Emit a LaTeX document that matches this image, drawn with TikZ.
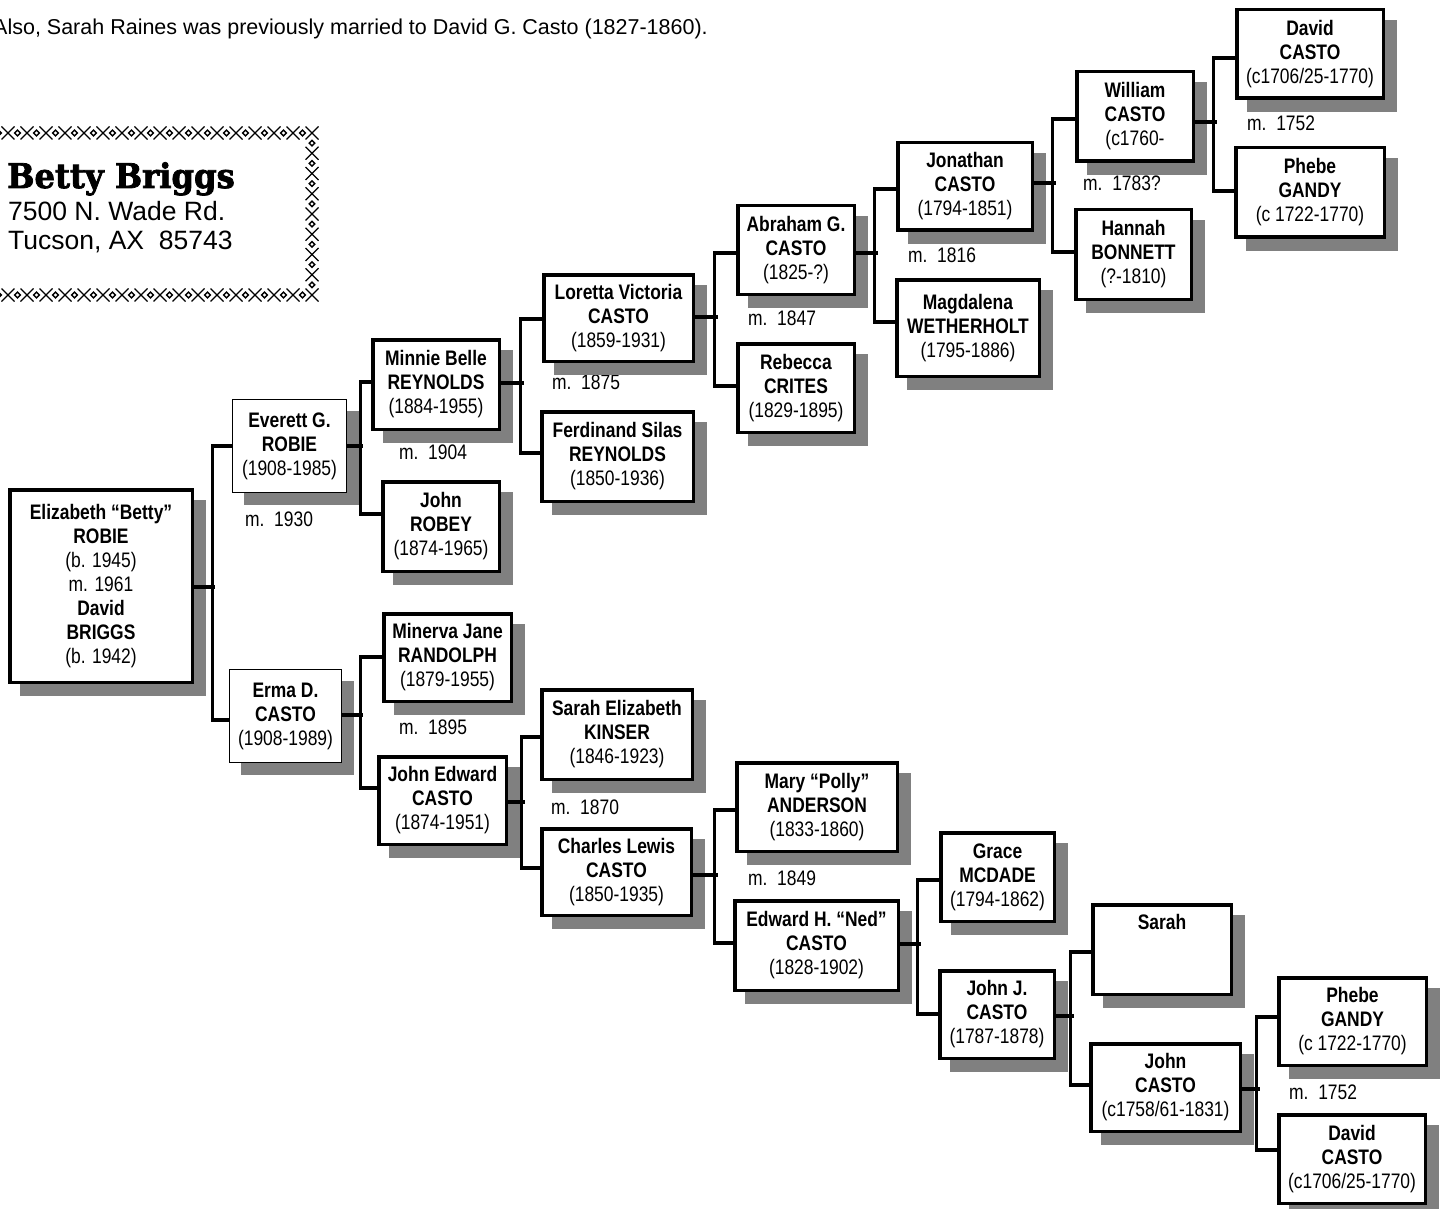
\documentclass[tikz,border=0pt]{standalone}
\usepackage{fontspec}
\setmainfont{Liberation Sans}[FakeStretch=0.83]
\newfontfamily\widefont{Liberation Sans}
\newfontfamily\slabfont{DejaVu Serif}[FakeStretch=0.95, BoldFeatures={FakeBold=2.2}]
\pgfdeclarelayer{lab}
\pgfdeclarelayer{shad}
\pgfsetlayers{lab,shad,main}
\definecolor{shadowgray}{HTML}{808080}
\tikzset{
  person/.style={draw=black, fill=white, line width=3.5pt, rectangle, inner sep=0pt,
    align=center, font=\fontsize{21}{24}\selectfont},
  thinperson/.style={person, line width=1.2pt},
  conn/.style={line width=3.2pt, line join=miter},
  marr/.style={anchor=west, inner sep=0pt, font=\fontsize{21}{24}\selectfont},
  stitch/.style={line width=1.4pt}
}
\newcommand\pbox[8]{%
  \begin{pgfonlayer}{shad}
    \fill[shadowgray] (#4+12,#5+12) rectangle (#6+12,#7+12);
  \end{pgfonlayer}
  \node[#2, minimum width={#6-#4-#3}, minimum height={#7-#5-#3}] (#1) at ({(#4+#6)/2},{(#5+#7)/2}) {#8};
}
\newcommand\familylink[8]{%
  \draw[conn] ([yshift=#2]#1.east) -- ++(#3,0);
  \draw[conn] ([yshift=#5]#4.west) -- ++(-#6,0) |- ([yshift=#8]#7.west);
}
\newcommand\stX[2]{\draw[stitch] (#1-6.5,#2-6.5) -- (#1+6.5,#2+6.5) (#1-6.5,#2+6.5) -- (#1+6.5,#2-6.5);}
\newcommand\stD[2]{\draw[stitch] (#1-2.8,#2) -- (#1,#2-2.8) -- (#1+2.8,#2) -- (#1,#2+2.8) -- cycle;}
\begin{document}
\begin{tikzpicture}[x=1pt,y=-1pt]
\useasboundingbox (0,0) rectangle (1446,1209);

% header
\node[anchor=base east, inner sep=0pt, font=\widefont\fontsize{21.5}{26}\selectfont] (hdr) at (708,35)
  {Also, Sarah Raines was previously married to David G. Casto (1827-1860).};

% address label with cross-stitch border
\foreach \k in {-1,...,16} {
  \pgfmathsetmacro\xx{8+19*\k}
  \stX{\xx}{133}
  \stX{\xx}{295}
}
\foreach \k in {-1,...,15} {
  \pgfmathsetmacro\xx{8+19*\k+9.5}
  \stD{\xx}{133}
  \stD{\xx}{295}
}
\foreach \j in {1,...,7} {
  \pgfmathsetmacro\yy{133+20.25*\j}
  \stX{312}{\yy}
}
\foreach \j in {1,...,8} {
  \pgfmathsetmacro\yy{133+20.25*\j-10.125}
  \stD{312}{\yy}
}
\node[anchor=base west, inner sep=0pt, font=\slabfont\bfseries\fontsize{34}{40}\selectfont] (bname) at (7,188) {Betty Briggs};
\node[anchor=base west, inner sep=0pt, font=\widefont\fontsize{26.5}{29}\selectfont] (addr1) at (8,221) {7500 N. Wade Rd.};
\node[anchor=base west, inner sep=0pt, font=\widefont\fontsize{26.5}{29}\selectfont] (addr2) at (8,250) {Tucson, AX~~85743};

% marriage labels
\begin{pgfonlayer}{lab}
\node[marr] (m1930) at (245,519) {m.~~1930};
\node[marr] (m1904) at (399,452) {m.~~1904};
\node[marr] (m1875) at (552,382) {m.~~1875};
\node[marr] (m1847) at (748,318) {m.~~1847};
\node[marr] (m1816) at (908,255) {m.~~1816};
\node[marr] (m1783) at (1083,183) {m.~~1783?};
\node[marr] (m1752a) at (1247,123) {m.~~1752};
\node[marr] (m1895) at (399,727) {m.~~1895};
\node[marr] (m1870) at (551,807) {m.~~1870};
\node[marr] (m1849) at (748,878) {m.~~1849};
\node[marr] (m1752b) at (1289,1092) {m.~~1752};
\end{pgfonlayer}

% people
\pbox{eliz}{person}{3.5}{8}{488}{194}{684}{\textbf{Elizabeth “Betty”}\\\textbf{ROBIE}\\(b. 1945)\\m. 1961\\\textbf{David}\\\textbf{BRIGGS}\\(b. 1942)}
\pbox{everett}{thinperson}{1.2}{232}{399}{347}{493}{\textbf{Everett G.}\\\textbf{ROBIE}\\(1908-1985)}
\pbox{erma}{thinperson}{1.2}{229}{669}{342}{763}{\textbf{Erma D.}\\\textbf{CASTO}\\(1908-1989)}
\pbox{minnie}{person}{3.5}{371}{338}{501}{431}{\textbf{Minnie Belle}\\\textbf{REYNOLDS}\\(1884-1955)}
\pbox{jrobey}{person}{3.5}{381}{480}{501}{573}{\textbf{John}\\\textbf{ROBEY}\\(1874-1965)}
\pbox{loretta}{person}{3.5}{542}{273}{695}{363}{\textbf{Loretta Victoria}\\\textbf{CASTO}\\(1859-1931)}
\pbox{ferd}{person}{3.5}{540}{410}{695}{503}{\textbf{Ferdinand Silas}\\\textbf{REYNOLDS}\\(1850-1936)}
\pbox{abraham}{person}{3.5}{736}{204}{856}{296}{\textbf{Abraham G.}\\\textbf{CASTO}\\(1825-?)}
\pbox{rebecca}{person}{3.5}{736}{342}{856}{434}{\textbf{Rebecca}\\\textbf{CRITES}\\(1829-1895)}
\pbox{jonathan}{person}{3.5}{896}{141}{1034}{232}{\textbf{Jonathan}\\\textbf{CASTO}\\(1794-1851)}
\pbox{magda}{person}{3.5}{895}{278}{1041}{378}{\textbf{Magdalena}\\\textbf{WETHERHOLT}\\(1795-1886)}
\pbox{william}{person}{3.5}{1075}{70}{1195}{163}{\textbf{William}\\\textbf{CASTO}\\(c1760-}
\pbox{hannah}{person}{3.5}{1074}{208}{1193}{301}{\textbf{Hannah}\\\textbf{BONNETT}\\(?-1810)}
\pbox{davidT}{person}{3.5}{1235}{8}{1385}{100}{\textbf{David}\\\textbf{CASTO}\\(c1706/25-1770)}
\pbox{phebeT}{person}{3.5}{1234}{146}{1386}{239}{\textbf{Phebe}\\\textbf{GANDY}\\(c 1722-1770)}
\pbox{minerva}{person}{3.5}{382}{612}{513}{703}{\textbf{Minerva Jane}\\\textbf{RANDOLPH}\\(1879-1955)}
\pbox{jedward}{person}{3.5}{377}{755}{508}{846}{\textbf{John Edward}\\\textbf{CASTO}\\(1874-1951)}
\pbox{sarahE}{person}{3.5}{540}{688}{694}{781}{\textbf{Sarah Elizabeth}\\\textbf{KINSER}\\(1846-1923)}
\pbox{charles}{person}{3.5}{540}{827}{693}{917}{\textbf{Charles Lewis}\\\textbf{CASTO}\\(1850-1935)}
\pbox{mary}{person}{3.5}{735}{761}{899}{853}{\textbf{Mary “Polly”}\\\textbf{ANDERSON}\\(1833-1860)}
\pbox{edward}{person}{3.5}{733}{899}{900}{992}{\textbf{Edward H. “Ned”}\\\textbf{CASTO}\\(1828-1902)}
\pbox{grace}{person}{3.5}{939}{831}{1056}{923}{\textbf{Grace}\\\textbf{MCDADE}\\(1794-1862)}
\pbox{johnJ}{person}{3.5}{938}{969}{1056}{1060}{\textbf{John J.}\\\textbf{CASTO}\\(1787-1878)}
\pbox{sarah}{person}{3.5}{1091}{903}{1233}{996}{\textbf{Sarah}\\\strut\\\strut}
\pbox{johnC}{person}{3.5}{1089}{1042}{1242}{1133}{\textbf{John}\\\textbf{CASTO}\\(c1758/61-1831)}
\pbox{phebeB}{person}{3.5}{1277}{976}{1428}{1067}{\textbf{Phebe}\\\textbf{GANDY}\\(c 1722-1770)}
\pbox{davidB}{person}{3.5}{1277}{1113}{1427}{1205}{\textbf{David}\\\textbf{CASTO}\\(c1706/25-1770)}

% connectors
\familylink{eliz}{-1}{20.75}{everett}{0}{19.6}{erma}{-4}
\familylink{everett}{0}{15.6}{minnie}{2.5}{10.75}{jrobey}{12.5}
\familylink{minnie}{1.5}{22.75}{loretta}{-1}{21.75}{ferd}{3.5}
\familylink{loretta}{1}{22.75}{abraham}{-3}{21.75}{rebecca}{2}
\familylink{abraham}{-3}{21.75}{jonathan}{-2.5}{21.75}{magda}{6}
\familylink{jonathan}{3.5}{21.75}{william}{-2.5}{22.75}{hannah}{2.5}
\familylink{william}{-5.5}{21.75}{davidT}{-4}{21.75}{phebeT}{1.5}
\familylink{erma}{1}{20.6}{minerva}{0.5}{21.75}{jedward}{12.5}
\familylink{jedward}{-1.5}{16.75}{sarahE}{-2.5}{18.75}{charles}{4}
\familylink{charles}{-3}{24.75}{mary}{-3}{20.75}{edward}{2.5}
\familylink{edward}{1.5}{20.75}{grace}{-3}{21.75}{johnJ}{0.5}
\familylink{johnJ}{-1.5}{17.75}{sarah}{-2.5}{20.75}{johnC}{2.5}
\familylink{johnC}{-1.5}{17.75}{phebeB}{4.5}{20.75}{davidB}{9}
\end{tikzpicture}
\end{document}
